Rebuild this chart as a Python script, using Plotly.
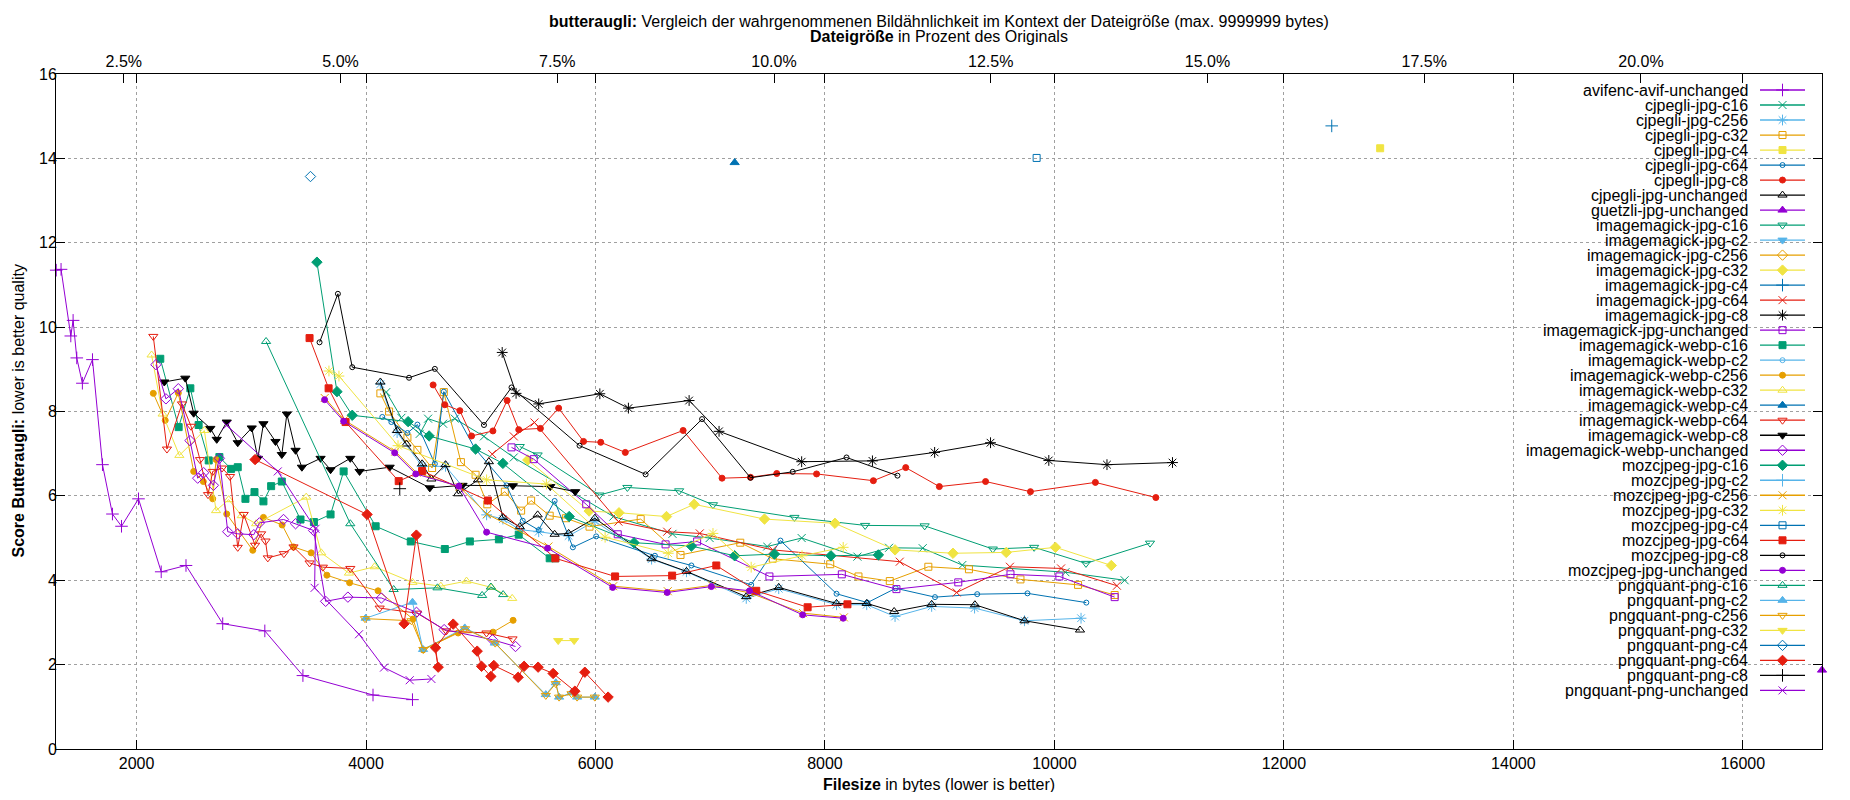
import plotly.graph_objects as go

# size of the original image in bytes
ORIGINAL_BYTES = 75560
X_RANGE = [1298, 16690]
Y_RANGE = [0, 16]
X_TICKS = [2000, 4000, 6000, 8000, 10000, 12000, 14000, 16000]
Y_TICKS = [0, 2, 4, 6, 8, 10, 12, 14, 16]
PCT_TICKS = [2.5, 5.0, 7.5, 10.0, 12.5, 15.0, 17.5, 20.0]

avifenc_avif_unchanged_x = [1300, 1342, 1427, 1447, 1479, 1528, 1616, 1703, 1790, 1869, 2017, 2215, 2431, 2751, 3118, 3450, 4061, 4405]
avifenc_avif_unchanged_y = [11.35, 11.37, 9.79, 10.16, 9.27, 8.67, 9.23, 6.74, 5.57, 5.28, 5.93, 4.20, 4.35, 2.97, 2.80, 1.74, 1.28, 1.17]

cjpegli_jpg_c16_x = [4177, 4308, 4468, 4541, 4672, 4774, 5028, 5288, 6156, 6671, 6995, 7496, 7797, 8283, 8559, 8852, 9197, 10096, 10612]
cjpegli_jpg_c16_y = [8.46, 7.85, 7.47, 7.83, 7.71, 7.83, 7.41, 6.91, 5.51, 5.10, 5.00, 4.80, 5.00, 4.56, 4.77, 4.76, 4.36, 4.19, 4.00]

cjpegli_jpg_c256_x = [4125, 4271, 4489, 4693, 5051, 5193, 5340, 5505, 5766, 5994, 6489, 6793, 7314, 7597, 8101, 8364, 8611, 8930, 9304, 9739, 10232]
cjpegli_jpg_c256_y = [8.65, 7.50, 6.70, 6.70, 5.55, 5.45, 5.20, 5.15, 5.05, 5.40, 4.50, 4.20, 3.57, 3.80, 3.42, 3.42, 3.14, 3.38, 3.34, 3.04, 3.10]

cjpegli_jpg_c32_x = [4125, 4201, 4361, 4448, 4576, 4678, 4827, 4955, 5057, 5210, 5352, 5439, 5601, 5742, 5948, 6394, 6741, 7262, 7545, 8046, 8292, 8565, 8901, 9255, 9704, 10206, 10525]
cjpegli_jpg_c32_y = [8.43, 8.00, 7.38, 7.09, 6.66, 8.46, 6.80, 6.50, 5.80, 6.10, 5.65, 5.89, 5.53, 5.47, 5.27, 5.45, 4.60, 4.89, 4.51, 4.38, 4.09, 3.98, 4.32, 4.26, 4.02, 3.89, 3.65]

cjpegli_jpg_c4_x = [12839]
cjpegli_jpg_c4_y = [14.24]

cjpegli_jpg_c64_x = [4142, 4221, 4361, 4448, 4600, 4678, 4947, 5224, 5366, 5505, 5644, 5803, 6006, 6518, 6836, 7357, 7612, 8101, 8370, 8617, 8959, 9327, 9765, 10278]
cjpegli_jpg_c64_y = [7.87, 7.75, 7.49, 7.69, 6.76, 8.47, 7.13, 6.25, 5.41, 5.19, 5.88, 4.78, 5.04, 4.58, 4.35, 3.89, 4.94, 3.68, 3.47, 3.81, 3.60, 3.67, 3.69, 3.47]

cjpegli_jpg_c8_x = [4585, 4687, 4818, 4920, 5106, 5230, 5331, 5520, 5679, 5896, 6046, 6260, 6764, 7103, 7351, 7580, 7927, 8422, 8704, 8997, 9400, 9791, 10357, 10884]
cjpegli_jpg_c8_y = [8.63, 8.16, 8.02, 7.42, 7.54, 8.26, 7.57, 7.60, 8.08, 7.29, 7.27, 7.03, 7.55, 6.42, 6.44, 6.53, 6.52, 6.36, 6.67, 6.22, 6.34, 6.10, 6.32, 5.96]

cjpegli_jpg_unchanged_x = [4125, 4271, 4352, 4489, 4570, 4693, 4803, 4976, 5071, 5193, 5340, 5496, 5644, 5766, 5994, 6489, 6793, 7314, 7597, 8101, 8364, 8603, 8930, 9307, 9739, 10223]
cjpegli_jpg_unchanged_y = [8.70, 7.55, 7.23, 6.76, 6.40, 6.74, 6.05, 6.38, 6.81, 5.49, 5.27, 5.55, 5.09, 5.11, 5.47, 4.51, 4.21, 3.61, 3.83, 3.45, 3.45, 3.26, 3.43, 3.42, 3.04, 2.82]

guetzli_jpg_unchanged_x = [16690]
guetzli_jpg_unchanged_y = [1.87]

imagemagick_jpg_c16_x = [5340, 5496, 6035, 6278, 6729, 7024, 7734, 8350, 8869, 9463, 9823, 10275, 10833]
imagemagick_jpg_c16_y = [7.17, 6.97, 6.02, 6.20, 6.12, 5.79, 5.49, 5.30, 5.29, 4.74, 4.78, 4.40, 4.88]

imagemagick_jpg_c2_x = []
imagemagick_jpg_c2_y = []

imagemagick_jpg_c256_x = []
imagemagick_jpg_c256_y = []

imagemagick_jpg_c32_x = [5410, 5945, 6205, 6619, 6860, 7473, 8087, 8611, 9116, 9580, 10009, 10496]
imagemagick_jpg_c32_y = [6.85, 5.64, 5.60, 5.51, 5.80, 5.45, 5.35, 4.72, 4.64, 4.66, 4.78, 4.35]

imagemagick_jpg_c4_x = [12417]
imagemagick_jpg_c4_y = [14.77]

imagemagick_jpg_c64_x = [5100, 5288, 5468, 6200, 6625, 6909, 7545, 8652, 9148, 9612, 10058, 10545]
imagemagick_jpg_c64_y = [6.99, 7.41, 7.74, 5.39, 5.15, 5.11, 4.72, 4.44, 3.71, 4.32, 4.28, 3.87]

imagemagick_jpg_c8_x = [5187, 5308, 5505, 6038, 6287, 6816, 7077, 7797, 8414, 8956, 9443, 9951, 10458, 11029]
imagemagick_jpg_c8_y = [9.40, 8.43, 8.18, 8.42, 8.08, 8.26, 7.53, 6.81, 6.83, 7.03, 7.26, 6.84, 6.74, 6.79]

imagemagick_jpg_unchanged_x = [5268, 5462, 5919, 6194, 6611, 6886, 7516, 8147, 8623, 9162, 9617, 10043, 10525]
imagemagick_jpg_unchanged_y = [7.15, 6.87, 5.80, 5.09, 4.85, 4.92, 4.09, 4.14, 3.79, 3.95, 4.14, 4.09, 3.60]

imagemagick_webp_c16_x = [2207, 2367, 2469, 2541, 2629, 2722, 2824, 2882, 2949, 3028, 3106, 3173, 3266, 3429, 3546, 3691, 3805, 4084, 4390, 4687, 4905, 5158, 5331, 5601, 5650]
imagemagick_webp_c16_y = [9.25, 7.63, 8.55, 7.68, 6.84, 6.92, 6.64, 6.68, 5.93, 6.09, 5.87, 6.23, 6.34, 5.44, 5.38, 5.56, 6.58, 5.28, 4.92, 4.74, 4.92, 4.97, 5.08, 4.52, 4.52]

imagemagick_webp_c2_x = []
imagemagick_webp_c2_y = []

imagemagick_webp_c256_x = [2146, 2250, 2364, 2498, 2582, 2664, 2693, 2786, 3013, 3106, 3269, 3368, 3522, 3659, 3857, 4105, 4410, 4497, 4803, 5108, 5282]
imagemagick_webp_c256_y = [8.43, 7.79, 8.44, 6.58, 6.34, 5.93, 6.86, 5.57, 4.71, 5.49, 5.31, 4.79, 4.65, 4.12, 3.94, 3.75, 3.08, 2.35, 2.75, 2.77, 3.05]

imagemagick_webp_c32_x = [2131, 2227, 2373, 2591, 2693, 2803, 2917, 3042, 3479, 3610, 3851, 4075, 4405, 4652, 4876, 5094, 5274]
imagemagick_webp_c32_y = [9.34, 7.94, 6.96, 7.55, 5.65, 5.91, 5.53, 5.34, 5.97, 4.65, 4.17, 4.32, 3.95, 3.86, 3.98, 3.83, 3.57]

imagemagick_webp_c4_x = [7213]
imagemagick_webp_c4_y = [13.90]

imagemagick_webp_c64_x = [2146, 2265, 2396, 2475, 2553, 2623, 2664, 2745, 2815, 2882, 2934, 3033, 3086, 3124, 3144, 3284, 3368, 3508, 3624, 3863, 4119, 4445, 4700, 5050, 5277]
imagemagick_webp_c64_y = [9.78, 7.11, 8.18, 7.65, 6.86, 6.03, 6.58, 6.66, 6.46, 4.78, 5.56, 4.83, 5.10, 4.93, 4.53, 4.63, 4.79, 4.41, 4.31, 4.28, 3.34, 3.22, 2.80, 2.75, 2.61]

imagemagick_webp_c8_x = [2242, 2425, 2498, 2643, 2699, 2786, 2882, 3004, 3057, 3106, 3211, 3266, 3310, 3386, 3441, 3604, 3691, 3863, 3944, 4206, 4556, 4841, 5280, 5606, 5823]
imagemagick_webp_c8_y = [8.70, 8.79, 7.96, 7.60, 7.34, 7.75, 7.26, 7.61, 6.89, 7.71, 7.29, 6.98, 7.94, 7.08, 6.68, 6.89, 6.62, 6.89, 6.58, 6.68, 6.19, 6.25, 6.24, 6.22, 6.10]

imagemagick_webp_unchanged_x = [2169, 2256, 2364, 2466, 2533, 2585, 2670, 2722, 2795, 2882, 3022, 3071, 3281, 3386, 3543, 3648, 3842, 4134, 4440, 4681, 5102, 5303]
imagemagick_webp_unchanged_y = [9.11, 8.30, 8.54, 7.31, 6.42, 6.55, 6.25, 6.89, 5.15, 5.10, 5.08, 5.36, 5.44, 5.34, 5.18, 3.50, 3.60, 3.58, 3.24, 2.83, 2.59, 2.43]

mozcjpeg_jpg_c16_x = [3572, 3747, 3880, 4367, 4550, 4955, 5193, 5771, 6336, 6836, 7213, 7560, 8052, 8466]
mozcjpeg_jpg_c16_y = [11.54, 8.47, 7.91, 7.76, 7.42, 7.11, 6.77, 5.51, 4.89, 4.81, 4.58, 4.62, 4.58, 4.60]

mozcjpeg_jpg_c2_x = []
mozcjpeg_jpg_c2_y = []

mozcjpeg_jpg_c256_x = [3640, 3810, 4255, 4440, 4815, 5055, 5590, 6155, 6630, 7015, 7345, 7810, 8165]
mozcjpeg_jpg_c256_y = [8.32, 7.80, 7.05, 6.55, 6.21, 5.57, 4.80, 3.86, 3.74, 3.88, 3.70, 3.22, 3.12]

mozcjpeg_jpg_c32_x = [3677, 3764, 4279, 5051, 5572, 6084, 6634, 7024, 7357, 7800, 8159]
mozcjpeg_jpg_c32_y = [8.96, 8.84, 7.19, 6.38, 6.28, 5.02, 4.64, 5.11, 4.31, 4.58, 4.78]

mozcjpeg_jpg_c4_x = [9845]
mozcjpeg_jpg_c4_y = [14.01]

mozcjpeg_jpg_c64_x = [3508, 3674, 3822, 4285, 4489, 5062, 5650, 6171, 6668, 7053, 7401, 7849, 8196]
mozcjpeg_jpg_c64_y = [9.74, 8.55, 7.75, 6.35, 6.59, 5.89, 4.52, 4.09, 4.11, 4.35, 3.75, 3.36, 3.43]

mozcjpeg_jpg_c8_x = [3595, 3755, 3880, 4375, 4600, 5028, 5268, 5861, 6437, 6929, 7351, 7719, 8188, 8632]
mozcjpeg_jpg_c8_y = [9.64, 10.79, 9.05, 8.80, 9.01, 7.68, 8.57, 7.19, 6.51, 7.82, 6.43, 6.57, 6.91, 6.48]

mozcjpeg_jpg_unchanged_x = [3639, 3805, 4250, 4434, 4809, 5051, 5583, 6150, 6625, 7010, 7343, 7806, 8159]
mozcjpeg_jpg_unchanged_y = [8.28, 7.77, 7.02, 6.52, 6.23, 5.14, 4.76, 3.83, 3.71, 3.85, 3.75, 3.18, 3.10]

pngquant_png_c16_x = [3129, 3863, 4241, 4623, 5012, 5088, 5195]
pngquant_png_c16_y = [9.66, 5.34, 3.78, 3.82, 3.64, 3.84, 3.66]

pngquant_png_c2_x = [3997, 4405, 4497, 4861, 5123, 5567, 5654, 5683, 5791, 5840, 5994]
pngquant_png_c2_y = [3.10, 3.48, 2.36, 2.87, 2.51, 1.29, 1.57, 1.23, 1.33, 1.23, 1.23]

pngquant_png_c256_x = [3991, 4396, 4500, 4863, 5126, 5567, 5654, 5683, 5791, 5840, 5994]
pngquant_png_c256_y = [3.09, 3.04, 2.36, 2.85, 2.51, 1.27, 1.55, 1.23, 1.31, 1.23, 1.23]

pngquant_png_c32_x = [5675, 5814]
pngquant_png_c32_y = [2.57, 2.57]

pngquant_png_c4_x = [3516]
pngquant_png_c4_y = [13.57]

pngquant_png_c64_x = [3033, 4009, 4332, 4439, 4629, 4606, 4760, 4969, 5007, 5088, 5114, 5326, 5378, 5500, 5631, 5820, 5907, 6110]
pngquant_png_c64_y = [6.86, 5.56, 2.97, 5.07, 1.94, 2.40, 2.96, 2.32, 1.96, 1.72, 1.98, 1.70, 1.96, 1.94, 1.79, 1.37, 1.82, 1.23]

pngquant_png_c8_x = [4294]
pngquant_png_c8_y = [6.17]

pngquant_png_unchanged_x = [2786, 3231, 3560, 3552, 3939, 4157, 4381, 4570]
pngquant_png_unchanged_y = [7.67, 6.58, 5.22, 3.82, 2.72, 1.93, 1.63, 1.66]

SERIES = [
    ("avifenc-avif-unchanged", avifenc_avif_unchanged_x, avifenc_avif_unchanged_y),
    ("cjpegli-jpg-c16", cjpegli_jpg_c16_x, cjpegli_jpg_c16_y),
    ("cjpegli-jpg-c256", cjpegli_jpg_c256_x, cjpegli_jpg_c256_y),
    ("cjpegli-jpg-c32", cjpegli_jpg_c32_x, cjpegli_jpg_c32_y),
    ("cjpegli-jpg-c4", cjpegli_jpg_c4_x, cjpegli_jpg_c4_y),
    ("cjpegli-jpg-c64", cjpegli_jpg_c64_x, cjpegli_jpg_c64_y),
    ("cjpegli-jpg-c8", cjpegli_jpg_c8_x, cjpegli_jpg_c8_y),
    ("cjpegli-jpg-unchanged", cjpegli_jpg_unchanged_x, cjpegli_jpg_unchanged_y),
    ("guetzli-jpg-unchanged", guetzli_jpg_unchanged_x, guetzli_jpg_unchanged_y),
    ("imagemagick-jpg-c16", imagemagick_jpg_c16_x, imagemagick_jpg_c16_y),
    ("imagemagick-jpg-c2", imagemagick_jpg_c2_x, imagemagick_jpg_c2_y),
    ("imagemagick-jpg-c256", imagemagick_jpg_c256_x, imagemagick_jpg_c256_y),
    ("imagemagick-jpg-c32", imagemagick_jpg_c32_x, imagemagick_jpg_c32_y),
    ("imagemagick-jpg-c4", imagemagick_jpg_c4_x, imagemagick_jpg_c4_y),
    ("imagemagick-jpg-c64", imagemagick_jpg_c64_x, imagemagick_jpg_c64_y),
    ("imagemagick-jpg-c8", imagemagick_jpg_c8_x, imagemagick_jpg_c8_y),
    ("imagemagick-jpg-unchanged", imagemagick_jpg_unchanged_x, imagemagick_jpg_unchanged_y),
    ("imagemagick-webp-c16", imagemagick_webp_c16_x, imagemagick_webp_c16_y),
    ("imagemagick-webp-c2", imagemagick_webp_c2_x, imagemagick_webp_c2_y),
    ("imagemagick-webp-c256", imagemagick_webp_c256_x, imagemagick_webp_c256_y),
    ("imagemagick-webp-c32", imagemagick_webp_c32_x, imagemagick_webp_c32_y),
    ("imagemagick-webp-c4", imagemagick_webp_c4_x, imagemagick_webp_c4_y),
    ("imagemagick-webp-c64", imagemagick_webp_c64_x, imagemagick_webp_c64_y),
    ("imagemagick-webp-c8", imagemagick_webp_c8_x, imagemagick_webp_c8_y),
    ("imagemagick-webp-unchanged", imagemagick_webp_unchanged_x, imagemagick_webp_unchanged_y),
    ("mozcjpeg-jpg-c16", mozcjpeg_jpg_c16_x, mozcjpeg_jpg_c16_y),
    ("mozcjpeg-jpg-c2", mozcjpeg_jpg_c2_x, mozcjpeg_jpg_c2_y),
    ("mozcjpeg-jpg-c256", mozcjpeg_jpg_c256_x, mozcjpeg_jpg_c256_y),
    ("mozcjpeg-jpg-c32", mozcjpeg_jpg_c32_x, mozcjpeg_jpg_c32_y),
    ("mozcjpeg-jpg-c4", mozcjpeg_jpg_c4_x, mozcjpeg_jpg_c4_y),
    ("mozcjpeg-jpg-c64", mozcjpeg_jpg_c64_x, mozcjpeg_jpg_c64_y),
    ("mozcjpeg-jpg-c8", mozcjpeg_jpg_c8_x, mozcjpeg_jpg_c8_y),
    ("mozcjpeg-jpg-unchanged", mozcjpeg_jpg_unchanged_x, mozcjpeg_jpg_unchanged_y),
    ("pngquant-png-c16", pngquant_png_c16_x, pngquant_png_c16_y),
    ("pngquant-png-c2", pngquant_png_c2_x, pngquant_png_c2_y),
    ("pngquant-png-c256", pngquant_png_c256_x, pngquant_png_c256_y),
    ("pngquant-png-c32", pngquant_png_c32_x, pngquant_png_c32_y),
    ("pngquant-png-c4", pngquant_png_c4_x, pngquant_png_c4_y),
    ("pngquant-png-c64", pngquant_png_c64_x, pngquant_png_c64_y),
    ("pngquant-png-c8", pngquant_png_c8_x, pngquant_png_c8_y),
    ("pngquant-png-unchanged", pngquant_png_unchanged_x, pngquant_png_unchanged_y),
]

# gnuplot default colour cycle and point types 1..13
PALETTE = ["#9400d3", "#009e73", "#56b4e9", "#e69f00",
           "#f0e442", "#0072b2", "#e51e10", "#000000"]
POINTS = [
    ("cross-thin-open", 9), ("x-thin-open", 8), ("asterisk-open", 9),
    ("square-open", 7), ("square", 7), ("circle-open", 5), ("circle", 6),
    ("triangle-up-open", 8), ("triangle-up", 8), ("triangle-down-open", 8),
    ("triangle-down", 8), ("diamond-open", 8), ("diamond", 8),
]

# the page body has an 8px margin, so the figure is shrunk by that much
# and every page-pixel position below is shifted back by OFF
OFF = 8
PAGE_W, PAGE_H = 1850, 800
W, H = PAGE_W - 2 * OFF, PAGE_H - 2 * OFF
PLOT_L, PLOT_R, PLOT_T, PLOT_B = 56, 1822, 74, 749   # page pixels
M_L, M_T = PLOT_L - OFF, PLOT_T - OFF
M_R, M_B = W - (PLOT_R - OFF), H - (PLOT_B - OFF)
FONT = "Liberation Sans, Arial, sans-serif"

# legend layout in page pixels (key drawn inside the plot, top right)
KEY_TEXT_X = 1750
KEY_LINE = (1760, 1805)
KEY_TOP = 90
KEY_STEP = 15.01


def marker_for(i):
    symbol, size = POINTS[i % len(POINTS)]
    color = PALETTE[i % len(PALETTE)]
    return dict(symbol=symbol, size=size, color=color,
                line=dict(color=color, width=1))


fig = go.Figure()

for i, (name, xs, ys) in enumerate(SERIES):
    color = PALETTE[i % len(PALETTE)]
    fig.add_trace(go.Scatter(
        x=xs, y=ys, name=name,
        mode="lines+markers",
        line=dict(color=color, width=1),
        marker=marker_for(i),
        cliponaxis=False,
        showlegend=False,
    ))

# empty trace so the percent axis on top is drawn
fig.add_trace(go.Scatter(
    x=[X_RANGE[0] / ORIGINAL_BYTES * 100, X_RANGE[1] / ORIGINAL_BYTES * 100],
    y=[None, None], xaxis="x2", yaxis="y",
    mode="markers", showlegend=False, hoverinfo="skip",
))

# legend samples on a pixel-space overlay axis (x3/y3 in page pixels)
for i, (name, xs, ys) in enumerate(SERIES):
    color = PALETTE[i % len(PALETTE)]
    ry = KEY_TOP + KEY_STEP * i
    fig.add_trace(go.Scatter(
        x=list(KEY_LINE), y=[ry, ry], xaxis="x3", yaxis="y3",
        mode="lines", line=dict(color=color, width=1.3),
        showlegend=False, hoverinfo="skip",
    ))
    fig.add_trace(go.Scatter(
        x=[sum(KEY_LINE) / 2], y=[ry], xaxis="x3", yaxis="y3",
        mode="markers", marker=marker_for(i),
        showlegend=False, hoverinfo="skip",
    ))
    fig.add_annotation(
        x=KEY_TEXT_X, y=ry, xref="x3", yref="y3", text=name,
        showarrow=False, xanchor="right", yanchor="middle",
        font=dict(size=16, color="black", family=FONT),
    )

# white box behind the key hides the grid there
key_bottom_px = KEY_TOP + KEY_STEP * (len(SERIES) - 1) + 10
fig.add_shape(
    type="rect", xref="x3", yref="y3",
    x0=1517, x1=PLOT_R, y0=PLOT_T, y1=key_bottom_px,
    fillcolor="white", line=dict(width=0), layer="below",
)

axis_common = dict(
    showline=True, linecolor="black", linewidth=1,
    ticks="inside", ticklen=9, tickwidth=1, tickcolor="black",
    tickfont=dict(size=16, color="black", family=FONT),
    zeroline=False,
)
grid = dict(showgrid=True, gridcolor="#a0a0a0", gridwidth=1, griddash="3px,3px")


def paper_y(px):
    return (PLOT_B - px) / (PLOT_B - PLOT_T)


def paper_x(px):
    return (px - PLOT_L) / (PLOT_R - PLOT_L)


fig.update_layout(
    width=W, height=H,
    margin=dict(l=M_L, r=M_R, t=M_T, b=M_B, pad=0),
    paper_bgcolor="white", plot_bgcolor="white",
    font=dict(family=FONT, size=16, color="black"),
    showlegend=False,
    xaxis=dict(range=X_RANGE, tickvals=X_TICKS, ticktext=[str(v) for v in X_TICKS],
               mirror="ticks", **axis_common, **grid),
    yaxis=dict(range=Y_RANGE, tickvals=Y_TICKS, mirror="ticks",
               ticklabelstandoff=-5, **axis_common, **grid),
    xaxis2=dict(
        overlaying="x", side="top", anchor="y",
        range=[X_RANGE[0] / ORIGINAL_BYTES * 100, X_RANGE[1] / ORIGINAL_BYTES * 100],
        tickvals=PCT_TICKS, ticktext=[f"{v:.1f}%" for v in PCT_TICKS],
        showgrid=False, **axis_common,
    ),
    xaxis3=dict(overlaying="x", anchor="y3", range=[PLOT_L, PLOT_R], visible=False),
    yaxis3=dict(overlaying="y", anchor="x3", range=[PLOT_B, PLOT_T], visible=False),
)

texts = [
    ("<b>butteraugli:</b> Vergleich der wahrgenommenen Bildähnlichkeit im Kontext der Dateigröße (max. 9999999 bytes)",
     0.5, paper_y(21), 0),
    ("<b>Dateigröße</b> in Prozent des Originals", 0.5, paper_y(37), 0),
    ("<b>Filesize</b> in bytes (lower is better)", 0.5, paper_y(785), 0),
    ("<b>Score Butteraugli:</b> lower is better quality", paper_x(18), 0.5, -90),
]
for text, x, y, angle in texts:
    fig.add_annotation(
        x=x, y=y, xref="paper", yref="paper", text=text, showarrow=False,
        xanchor="center", yanchor="middle", textangle=angle,
        font=dict(size=16, color="black", family=FONT),
    )

fig.write_html("out.html")
